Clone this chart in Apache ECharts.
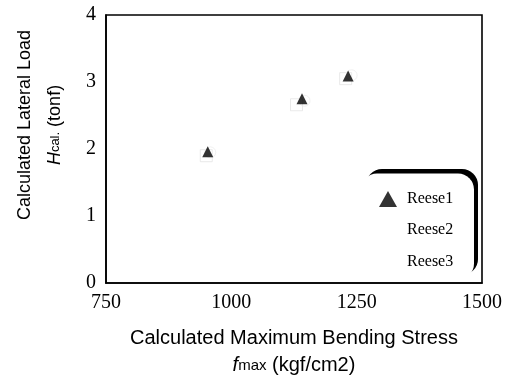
<!DOCTYPE html>
<html>
<head>
<meta charset="utf-8">
<style>
  html, body { margin: 0; padding: 0; background: #fff; }
  #chart { width: 505px; height: 390px; }
</style>
<script src="https://cdn.jsdelivr.net/npm/echarts@6/dist/echarts.min.js"></script>
</head>
<body>
<div id="chart"></div>
<script>
// Calculated maximum bending stress (kgf/cm2) vs calculated lateral load (tonf)
const xTicks = [750, 1000, 1250, 1500];
const yTicks = [0, 1, 2, 3, 4];

const seriesNames = ['Reese1', 'Reese2', 'Reese3'];
const reese1Stress = [953, 1141, 1233];
const reese1Load   = [1.96, 2.75, 3.09];
const reese2Stress = [950, 1130, 1228];
const reese2Load   = [1.9, 2.66, 3.05];
const reese3Stress = [958, 1146, 1240];
const reese3Load   = [1.95, 2.72, 3.1];

const pairs = (xs, ys) => xs.map((x, i) => [x, ys[i]]);

const serif = '"Liberation Serif", "DejaVu Serif", serif';
const sans = '"Liberation Sans", Arial, sans-serif';

const chart = echarts.init(document.getElementById('chart'), null, { renderer: 'canvas' });

chart.setOption({
  backgroundColor: '#ffffff',
  animation: false,
  grid: {
    left: 106, right: 23, top: 15, bottom: 107,
    show: true, borderColor: '#000', borderWidth: 1.6, backgroundColor: 'transparent'
  },
  xAxis: {
    type: 'value',
    min: xTicks[0], max: xTicks[xTicks.length - 1], interval: 250,
    axisLine: { lineStyle: { color: '#000', width: 1.6 } },
    axisTick: { show: false },
    splitLine: { show: false },
    axisLabel: { color: '#000', fontFamily: serif, fontSize: 20, margin: 10, formatter: v => String(v) },
    name: '{a|Calculated Maximum Bending Stress}\n{i|f}{s|max}{a| (kgf/cm2)}',
    nameLocation: 'middle',
    nameGap: 42,
    nameTextStyle: {
      color: '#000',
      rich: {
        a: { fontFamily: sans, fontSize: 20, lineHeight: 27, color: '#000' },
        i: { fontFamily: sans, fontSize: 20, fontStyle: 'italic', lineHeight: 27, color: '#000' },
        s: { fontFamily: sans, fontSize: 15, lineHeight: 27, color: '#000' }
      }
    }
  },
  yAxis: {
    type: 'value',
    min: yTicks[0], max: yTicks[yTicks.length - 1], interval: 1,
    axisLine: { lineStyle: { color: '#000', width: 1.6 } },
    axisTick: { show: false },
    splitLine: { show: false },
    axisLabel: { color: '#000', fontFamily: serif, fontSize: 20, margin: 10, formatter: v => String(v) },
    name: '{a|Calculated Lateral Load}\n{i|H}{s|cal.}{a| (tonf)}',
    nameLocation: 'middle',
    nameRotate: 90,
    nameGap: 36,
    nameTextStyle: {
      color: '#000',
      padding: [0, 0, 0, 48],
      rich: {
        a: { fontFamily: sans, fontSize: 18, lineHeight: 30, color: '#000' },
        i: { fontFamily: sans, fontSize: 18, fontStyle: 'italic', lineHeight: 30, color: '#000' },
        s: { fontFamily: sans, fontSize: 13, lineHeight: 30, color: '#000' }
      }
    }
  },
  legend: {
    orient: 'vertical',
    left: 373, top: 186,
    itemWidth: 18, itemHeight: 16, itemGap: 14,
    textStyle: { color: '#000', fontFamily: serif, fontSize: 16, padding: [0, 0, 0, 5] },
    data: [
      { name: seriesNames[0], icon: 'triangle' },
      { name: seriesNames[1], icon: 'rect', itemStyle: { opacity: 0 } },
      { name: seriesNames[2], icon: 'rect', itemStyle: { opacity: 0 } }
    ],
    z: 5
  },
  graphic: [
    // legend frame: dark offset edge with a white panel on top
    { type: 'rect', z: 1, shape: { x: 366, y: 169, width: 112, height: 106, r: 16 }, style: { fill: '#000' } },
    { type: 'rect', z: 1, shape: { x: 361, y: 173.5, width: 113, height: 106, r: 16 }, style: { fill: '#fff' } }
  ],
  series: [
    {
      name: seriesNames[0], type: 'scatter', symbol: 'triangle', symbolSize: 11,
      itemStyle: { color: '#000' }, z: 4,
      data: pairs(reese1Stress, reese1Load)
    },
    {
      name: seriesNames[1], type: 'scatter', symbol: 'rect', symbolSize: 12,
      itemStyle: { color: 'rgba(0,0,0,0)', borderColor: '#e4e4e4', borderWidth: 1 }, z: 3,
      data: pairs(reese2Stress, reese2Load)
    },
    {
      name: seriesNames[2], type: 'scatter', symbol: 'circle', symbolSize: 11,
      itemStyle: { color: 'rgba(0,0,0,0)', borderColor: '#ececec', borderWidth: 1 }, z: 3,
      data: pairs(reese3Stress, reese3Load)
    }
  ]
});
</script>
</body>
</html>
